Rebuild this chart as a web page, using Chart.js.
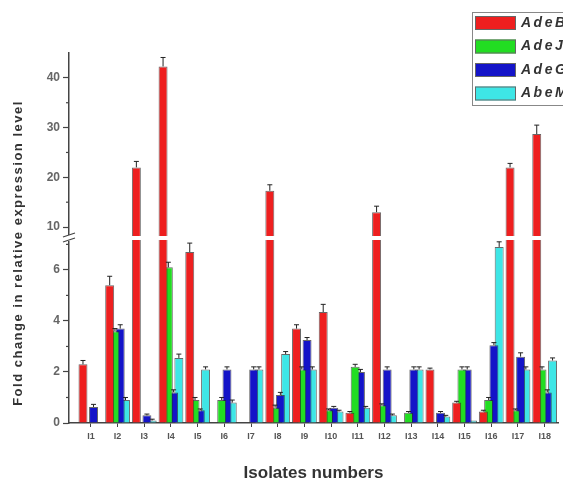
<!DOCTYPE html>
<html>
<head>
<meta charset="utf-8">
<script src="https://cdn.jsdelivr.net/npm/chart.js@4.4.1/dist/chart.umd.min.js"></script>
<style>
  body{margin:0;background:#fff}
  canvas{display:block}
</style>
</head>
<body>
<canvas id="grafico" width="563" height="481"></canvas>
<script>
const isolati = ['I1','I2','I3','I4','I5','I6','I7','I8','I9','I10','I11','I12','I13','I14','I15','I16','I17','I18'];
const geni = ['AdeB','AdeJ','AdeG','AbeM'];

const adeB = [2.3,5.4,22.0,42.3,6.7,0,0,17.3,3.7,4.35,0.4,13.0,0,2.1,0.8,0.45,22.0,28.7];
const adeJ = [0,3.6,0,6.1,0.9,0.9,0,0.6,2.1,0.5,2.2,0.7,0.4,0,2.1,0.9,0.5,2.1];
const adeG = [0.63,3.7,0.3,1.2,0.5,2.1,2.1,1.1,3.25,0.6,2.0,2.1,2.1,0.4,2.1,3.05,2.6,1.2];
const abeM = [0,0.9,0.1,2.55,2.1,0.8,2.1,2.7,2.1,0.45,0.6,0.3,2.1,0.25,0.1,6.9,2.1,2.45];

const errB = [0.15,0.35,1.2,1.8,0.35,0,0,1.2,0.15,0.3,0.05,1.2,0,0.05,0.05,0.05,0.8,1.8];
const errJ = [0,0.1,0,0.2,0.1,0.1,0,0.1,0.1,0.05,0.1,0.05,0.05,0,0.1,0.1,0.05,0.1];
const errG = [0.1,0.15,0.05,0.1,0.05,0.1,0.1,0.1,0.1,0.05,0.1,0.1,0.1,0.05,0.1,0.1,0.15,0.1];
const errM = [0,0.1,0.05,0.15,0.1,0.1,0.1,0.1,0.1,0.05,0.05,0.05,0.1,0.05,0,0.2,0.1,0.1];

// asse spezzato: sotto 0..LOW_MAX, sopra UP_MIN..UP_MAX
const LOW_MAX = 7.25, UP_MIN = 7.8, UP_MAX = 45;
const tickBassi = [0,2,4,6];
const tickAlti = [10,20,30,40];

const serie = [
  {nome:geni[0], valori:adeB, errori:errB, colore:'#ee1f1f'},
  {nome:geni[1], valori:adeJ, errori:errJ, colore:'#22dd22'},
  {nome:geni[2], valori:adeG, errori:errG, colore:'#1414c8'},
  {nome:geni[3], valori:abeM, errori:errM, colore:'#3ee6e6'}
];

Chart.defaults.font.family = '"Liberation Sans", Arial, sans-serif';

const datasets = [];
serie.forEach((s,k)=>{
  const comune = {label:s.nome, stack:'s'+k, order:k, backgroundColor:s.colore,
    borderColor:'rgba(40,40,40,0.7)', borderWidth:1,
    categoryPercentage:0.79, barPercentage:1.7};
  datasets.push(Object.assign({yAxisID:'yLow',
    data:s.valori.map((v,i)=>({x:i+1, y:Math.min(v,LOW_MAX)}))}, comune));
  datasets.push(Object.assign({yAxisID:'yHigh',
    data:s.valori.map((v,i)=>({x:i+1, y:v>UP_MIN ? v : null}))}, comune));
});

const asseY = (min,max,ticks)=>({
  type:'linear', position:'left', stack:'asse', stackWeight:1, stacked:false,
  min, max,
  afterBuildTicks:sc=>{ sc.ticks = ticks.map(v=>({value:v})); },
  afterFit:sc=>{ sc.width = 69; },
  ticks:{color:'#666', font:{size:12, weight:'bold'}, padding:3},
  grid:{drawOnChartArea:false, tickLength:6, tickColor:'#444', tickWidth:1.2},
  border:{color:'#444', width:1.5}
});

const pluginRottura = {
  id:'rottura',
  afterDatasetsDraw(chart){
    const {ctx, chartArea:ca, scales} = chart;
    const yL = scales.yLow, yH = scales.yHigh;
    ctx.save();
    // barre di errore
    ctx.strokeStyle = '#222';
    ctx.lineWidth = 1;
    serie.forEach((s,k)=>{
      const meta = chart.getDatasetMeta(k*2);
      s.valori.forEach((v,i)=>{
        const e = s.errori[i];
        if(!e) return;
        const sc = v>LOW_MAX ? yH : yL;
        const x = meta.data[i].x;
        const y0 = sc.getPixelForValue(v), y1 = sc.getPixelForValue(v+e);
        ctx.beginPath();
        ctx.moveTo(x,y0); ctx.lineTo(x,y1);
        ctx.moveTo(x-2.5,y1); ctx.lineTo(x+2.5,y1);
        ctx.stroke();
      });
    });
    // spazio bianco della rottura
    const yb = yL.top;
    ctx.fillStyle = '#fff';
    ctx.fillRect(ca.left+1, yb-2, ca.right-ca.left, 4);
    ctx.fillRect(ca.left-2, yb-3, 4, 6);
    ctx.strokeStyle = '#444';
    ctx.lineWidth = 1.3;
    ctx.beginPath();
    ctx.moveTo(ca.left-6, yb-1); ctx.lineTo(ca.left+6, yb-5);
    ctx.moveTo(ca.left-6, yb+4); ctx.lineTo(ca.left+6, yb);
    ctx.stroke();
    ctx.restore();
  },
  afterDraw(chart){
    const {ctx, chartArea:ca, scales} = chart;
    ctx.save();
    // tacche minori
    ctx.strokeStyle = '#444';
    ctx.lineWidth = 1.2;
    [[scales.yHigh,tickAlti,10],[scales.yLow,tickBassi,2]].forEach(([sc,tk,passo])=>{
      tk.forEach(v=>{
        const m = v+passo/2;
        if(m>=sc.max) return;
        const y = sc.getPixelForValue(m);
        ctx.beginPath(); ctx.moveTo(ca.left-3,y); ctx.lineTo(ca.left,y); ctx.stroke();
      });
    });
    // titolo asse y
    ctx.fillStyle = '#333';
    ctx.font = 'bold 13px "Liberation Sans", Arial, sans-serif';
    ctx.letterSpacing = '1.5px';
    ctx.textAlign = 'center';
    ctx.textBaseline = 'middle';
    ctx.translate(18,253);
    ctx.rotate(-Math.PI/2);
    ctx.fillText('Fold change in relative expression level',0,0);
    ctx.restore();
    // legenda
    ctx.save();
    ctx.fillStyle = '#fff';
    ctx.fillRect(472,12,120,93);
    ctx.strokeStyle = '#888';
    ctx.lineWidth = 1;
    ctx.strokeRect(472.5,12.5,120,93);
    ctx.font = 'italic bold 14px "Liberation Sans", Arial, sans-serif';
    ctx.letterSpacing = '2.5px';
    ctx.textBaseline = 'middle';
    serie.forEach((s,k)=>{
      const y = 23 + k*23.5;
      ctx.fillStyle = s.colore;
      ctx.fillRect(475,y-7,41,14);
      ctx.strokeStyle = '#666';
      ctx.strokeRect(475.5,y-6.5,40,13);
      ctx.fillStyle = '#333';
      ctx.fillText(s.nome,521,y);
    });
    ctx.restore();
  }
};

new Chart(document.getElementById('grafico').getContext('2d'),{
  type:'bar',
  data:{datasets},
  options:{
    responsive:false,
    animation:false,
    devicePixelRatio:1,
    layout:{padding:{top:53, right:5, left:0, bottom:0}},
    plugins:{legend:{display:false}, tooltip:{enabled:false}},
    scales:{
      x:{
        type:'linear', min:0.18, max:18.5, offset:false,
        afterBuildTicks:sc=>{ sc.ticks = isolati.map((_,i)=>({value:i+1})); },
        afterFit:sc=>{ sc.height = 58; },
        ticks:{callback:v=>isolati[v-1], autoSkip:false, maxRotation:0,
          color:'#555', font:{size:9, weight:'bold'}, padding:4},
        grid:{drawOnChartArea:false, offset:false, tickLength:4, tickColor:'#444'},
        border:{color:'#444', width:1.5},
        title:{display:true, text:'Isolates numbers', color:'#333',
          font:{size:17, weight:'bold'}, padding:{top:19, bottom:-3}}
      },
      yLow:asseY(0,LOW_MAX,tickBassi),
      yHigh:asseY(UP_MIN,UP_MAX,tickAlti)
    }
  },
  plugins:[pluginRottura]
});
</script>
</body>
</html>
